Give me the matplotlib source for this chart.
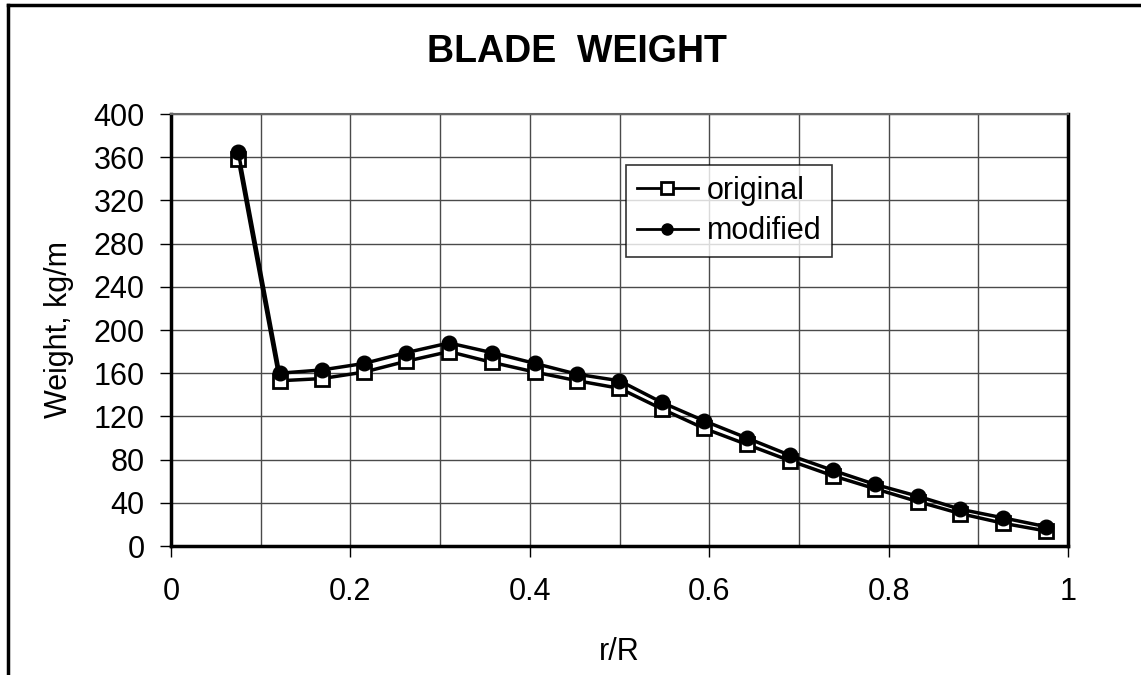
import matplotlib
matplotlib.use("Agg")
import matplotlib.pyplot as plt
from matplotlib.lines import Line2D
from matplotlib.ticker import MultipleLocator

plt.rcParams["font.family"] = ["Liberation Sans", "DejaVu Sans"]

# data
r_over_R = [0.075, 0.121, 0.168, 0.215, 0.262, 0.310, 0.358, 0.406, 0.453, 0.500,
            0.547, 0.594, 0.642, 0.690, 0.738, 0.785, 0.833, 0.880, 0.928, 0.975]
original = [358, 153, 155, 161, 171, 180, 170, 161, 153, 146,
            127, 109, 94, 79, 65, 53, 41, 30, 21, 14]
modified = [365, 160, 163, 169, 179, 188, 179, 169, 159, 153,
            133, 116, 100, 84, 70, 57, 46, 34, 26, 18]

W, H = 1141, 675
fig = plt.figure(figsize=(W / 100, H / 100), dpi=100)
ax = fig.add_axes([171 / W, 1 - 546 / H, (1068 - 171) / W, (546 - 114) / H])

ax.plot(r_over_R, original, color="black", lw=2.5, marker="s", ms=9.5,
        mfc="white", mec="black", mew=2, label="original", zorder=3)
ax.plot(r_over_R, modified, color="black", lw=2.5, marker="o", ms=10.5,
        mfc="black", mec="black", label="modified", zorder=4)

ax.set_xlim(0, 1)
ax.set_ylim(0, 400)
ax.xaxis.set_major_locator(MultipleLocator(0.2))
ax.xaxis.set_minor_locator(MultipleLocator(0.1))
ax.yaxis.set_major_locator(MultipleLocator(40))
ax.xaxis.set_major_formatter(plt.FuncFormatter(lambda v, p: f"{v:g}"))

ax.grid(True, which="both", color="#4a4a4a", lw=1)
ax.set_axisbelow(True)
ax.tick_params(axis="both", which="major", direction="out", length=8, width=1,
               labelsize=22)
ax.tick_params(axis="y", pad=11)
ax.tick_params(axis="x", which="minor", length=0)
ax.tick_params(axis="x", pad=14)

for side in ["left", "bottom", "right"]:
    ax.spines[side].set_linewidth(2.5)
ax.spines["top"].set_linewidth(1.5)
ax.spines["top"].set_color("#666666")

ax.set_xlabel("r/R", fontsize=22, labelpad=22)
ax.set_ylabel("Weight, kg/m", fontsize=22, labelpad=14)

fig.text(577 / W, 1 - 52 / H, "BLADE  WEIGHT", fontsize=27, fontweight="bold",
         ha="center", va="center")

leg = ax.legend(loc="upper left", bbox_to_anchor=((626 - 171) / (1068 - 171), (546 - 165) / 432),
                fontsize=22, frameon=True, fancybox=False, edgecolor="black",
                handlelength=2.0, handletextpad=0.3, borderpad=0.35, labelspacing=0.35,
                borderaxespad=0)
leg.get_frame().set_linewidth(1.2)
for h in leg.legend_handles:
    h.set_markersize(8)
    h.set_linewidth(2)

# outer chart frame (cut off on the right and bottom in the reference)
fig.add_artist(Line2D([8 / W, 1.0], [1 - 5 / H, 1 - 5 / H], color="black", lw=2.5,
                      transform=fig.transFigure))
fig.add_artist(Line2D([8 / W, 8 / W], [1 - 5 / H, 0.0], color="black", lw=2.5,
                      transform=fig.transFigure))

fig.savefig("out.png", dpi=100)
